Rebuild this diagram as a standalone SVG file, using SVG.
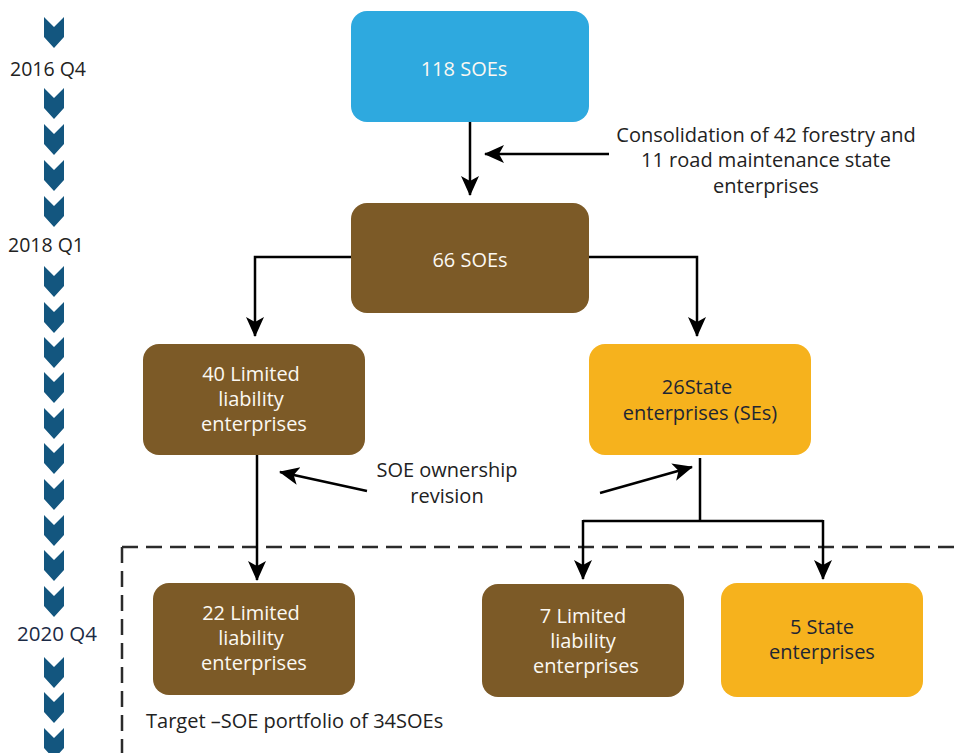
<svg xmlns="http://www.w3.org/2000/svg" width="958" height="753" viewBox="0 0 958 753">
<style>
text{font-family:"Open Sans","Liberation Sans",sans-serif;font-size:20px;text-anchor:middle}
.w{fill:#fbf8f2}
.d{fill:#1f2633}
.k{fill:#222222}
.blue{fill:#2EA9DF}
.brown{fill:#7C5A27}
.yellow{fill:#F6B21D}
.ln{stroke:#000;stroke-width:2.5;fill:none}
.chev{fill:#13567F}
</style>
<defs>
<marker id="ah" markerUnits="userSpaceOnUse" viewBox="0 0 20 20" refX="19" refY="10" markerWidth="20" markerHeight="20" orient="auto">
<path d="M0,1 L20,10 L0,19 L5,10 z" fill="#000"/>
</marker>
<path id="cv" d="M-10,0 L0,10 L10,0 L10,20 L0,31 L-10,20 z"/>
</defs>
<g id="timeline">
<use href="#cv" class="chev" x="54" y="17"/>
<text x="48" y="76" class="k" style="font-size:19.5px">2016 Q4</text>
<use href="#cv" class="chev" x="54" y="88"/>
<use href="#cv" class="chev" x="54" y="124"/>
<use href="#cv" class="chev" x="54" y="160"/>
<use href="#cv" class="chev" x="54" y="196"/>
<text x="46" y="252" class="k" style="font-size:19.5px">2018 Q1</text>
<use href="#cv" class="chev" x="54" y="266"/>
<use href="#cv" class="chev" x="54" y="302"/>
<use href="#cv" class="chev" x="54" y="337"/>
<use href="#cv" class="chev" x="54" y="372"/>
<use href="#cv" class="chev" x="54" y="408"/>
<use href="#cv" class="chev" x="54" y="443"/>
<use href="#cv" class="chev" x="54" y="479"/>
<use href="#cv" class="chev" x="54" y="515"/>
<use href="#cv" class="chev" x="54" y="550"/>
<use href="#cv" class="chev" x="54" y="586"/>
<text x="57" y="641" style="font-size:20.5px;fill:#1b2a45">2020 Q4</text>
<use href="#cv" class="chev" x="54" y="657"/>
<use href="#cv" class="chev" x="54" y="692"/>
<use href="#cv" class="chev" x="54" y="728"/>
</g>
<g id="target">
<path d="M122,547 H958 M122,547 V753" stroke="#2b2b2b" stroke-width="2.5" stroke-dasharray="16,8" fill="none"/>
<text x="146" y="728" class="k" style="text-anchor:start">Target –SOE portfolio of 34SOEs</text>
</g>
<g id="connectors">
<path class="ln" d="M470,122 V195" marker-end="url(#ah)"/>
<path class="ln" d="M609,154 H485" marker-end="url(#ah)"/>
<path class="ln" d="M351,257 H255 V336" marker-end="url(#ah)"/>
<path class="ln" d="M589,257 H697 V336" marker-end="url(#ah)"/>
<path class="ln" d="M257,455 V580" marker-end="url(#ah)"/>
<path class="ln" d="M700,458 V521 M583,521 H823"/>
<path class="ln" d="M583,520 V579" marker-end="url(#ah)"/>
<path class="ln" d="M823,520 V579" marker-end="url(#ah)"/>
<path class="ln" d="M367,491 L280,472" marker-end="url(#ah)"/>
<path class="ln" d="M600,493 L692,467" marker-end="url(#ah)"/>
</g>
<g id="consolidation-label">
<text x="766" y="142" class="k">Consolidation of 42 forestry and</text>
<text x="766" y="167" class="k">11 road maintenance state</text>
<text x="766" y="193" class="k">enterprises</text>
</g>
<g id="revision-label">
<text x="447" y="477" class="k">SOE ownership</text>
<text x="447" y="503" class="k">revision</text>
</g>
<g id="n118">
<rect x="351" y="11" width="238" height="111" rx="16" class="blue"/>
<text x="464" y="76" class="w">118 SOEs</text>
</g>
<g id="n66">
<rect x="351" y="203" width="238" height="110" rx="16" class="brown"/>
<text x="470" y="267" class="w">66 SOEs</text>
</g>
<g id="n40">
<rect x="143" y="344" width="222" height="111" rx="16" class="brown"/>
<text x="251" y="381" class="w">40 Limited</text>
<text x="251" y="406" class="w">liability</text>
<text x="254" y="431" class="w">enterprises</text>
</g>
<g id="n26">
<rect x="589" y="344" width="222" height="111" rx="16" class="yellow"/>
<text x="697" y="394" class="d">26State</text>
<text x="700" y="420" class="d">enterprises (SEs)</text>
</g>
<g id="n22">
<rect x="153" y="583" width="202" height="112" rx="16" class="brown"/>
<text x="251" y="620" class="w">22 Limited</text>
<text x="251" y="645" class="w">liability</text>
<text x="254" y="670" class="w">enterprises</text>
</g>
<g id="n7">
<rect x="482" y="584" width="202" height="113" rx="16" class="brown"/>
<text x="583" y="623" class="w">7 Limited</text>
<text x="583" y="648" class="w">liability</text>
<text x="586" y="673" class="w">enterprises</text>
</g>
<g id="n5">
<rect x="721" y="583" width="202" height="114" rx="16" class="yellow"/>
<text x="822" y="634" class="d">5 State</text>
<text x="822" y="659" class="d">enterprises</text>
</g>
</svg>
